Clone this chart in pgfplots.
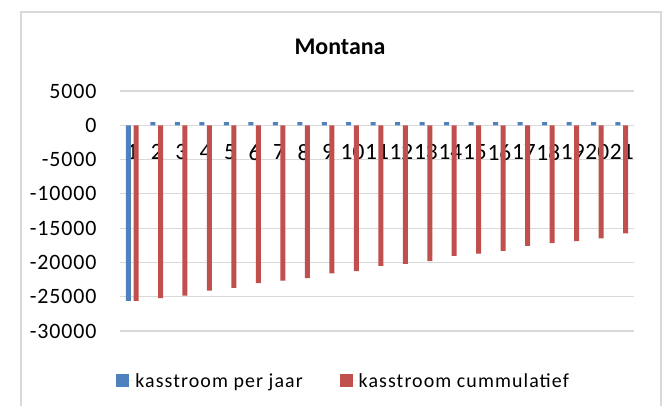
\documentclass[border=0pt]{standalone}
\usepackage{pgfplots}
\pgfplotsset{compat=1.18}
\usepackage{fontspec}
\setmainfont{Carlito}
\newfontfamily\lsfont[LetterSpace=5.5]{Carlito}
\newfontfamily\tkfont[LetterSpace=4]{Carlito}
\definecolor{exblue}{HTML}{4F81BD}
\definecolor{exred}{HTML}{C0504D}
\definecolor{gridgray}{HTML}{D9D9D9}
\pgfplotsset{
  layers/mylayers/.define layer set={axis background,axis grid,axis ticks,axis lines,main,axis tick labels,axis descriptions,axis foreground}{},
}
\begin{document}
\begin{tikzpicture}[x=1bp,y=1bp]
\fill[white] (0,0) rectangle (664,405);
\draw[gridgray, line width=1.2bp] (21,-10) -- (21,393) -- (661,393) -- (661,-10);
\node[font=\fontsize{24}{26}\selectfont\bfseries] at (340,358) {Montana};
\begin{axis}[
  set layers=mylayers,
  at={(120bp,74bp)}, anchor=south west,
  scale only axis, width=514bp, height=240bp,
  xmin=0.5, xmax=21.5, ymin=-30000, ymax=5000,
  ytick={-30000,-25000,...,5000},
  xtick={1,...,21},
  axis line style={draw=none},
  major tick length=0pt, tick style={draw=none},
  ymajorgrids, xmajorgrids=false, grid style={draw=gridgray, line width=1.2bp},
  ybar=2.6bp, bar width=5bp,
  scaled y ticks=false,
  /pgf/number format/assume math mode=true,
  /pgf/number format/.cd, 1000 sep={}, fixed, /pgfplots/.cd,
  yticklabel style={font=\tkfont\fontsize{22}{23}\selectfont, xshift=-20bp},
  xticklabel style={font=\fontsize{23.5}{24}\selectfont, anchor=north, yshift=190bp},
  legend columns=2,
  legend style={draw=none, fill=none, at={(0.435,-0.208)}, anchor=center,
    font=\lsfont\fontsize{20}{22}\selectfont, /tikz/every even column/.append style={column sep=35bp}},
  legend image code/.code={\fill[#1] (0bp,-6.5bp) rectangle (13bp,6.5bp); \path (0bp,0bp) -- (17bp,0bp);},
]
\addplot[fill=exblue, draw=none] coordinates {
(1,-25600) (2,450) (3,450) (4,450) (5,450) (6,450) (7,450) (8,450) (9,450) (10,450) (11,450)
(12,450) (13,450) (14,450) (15,450) (16,450) (17,450) (18,450) (19,450) (20,450) (21,450)};
\addplot[fill=exred, draw=none] coordinates {
(1,-25600) (2,-25200) (3,-24850) (4,-24100) (5,-23700) (6,-23000) (7,-22650) (8,-22300)
(9,-21600) (10,-21250) (11,-20500) (12,-20200) (13,-19800) (14,-19050) (15,-18700)
(16,-18300) (17,-17600) (18,-17200) (19,-16900) (20,-16500) (21,-15750)};
\legend{kasstroom per jaar, kasstroom cummulatief}
\end{axis}
\pgfresetboundingbox
\useasboundingbox (0,0) rectangle (664,405);
\end{tikzpicture}
\end{document}
